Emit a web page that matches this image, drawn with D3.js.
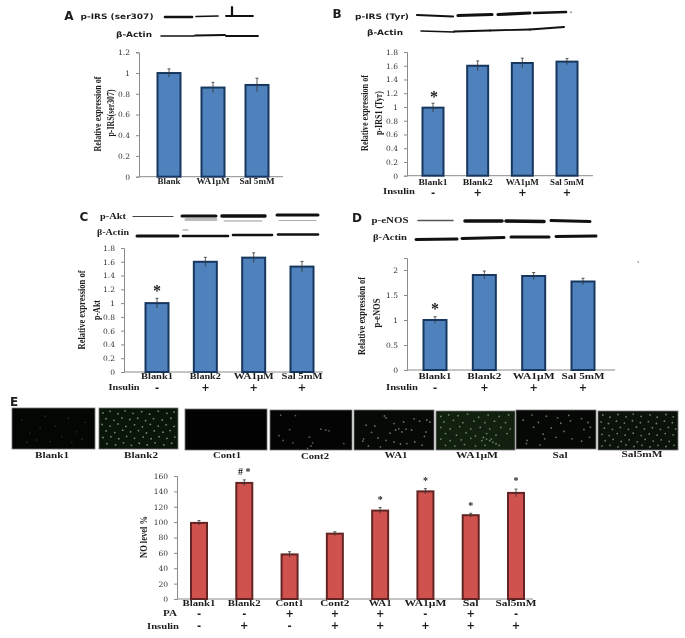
<!DOCTYPE html>
<html>
<head>
<meta charset="utf-8">
<style>
    body { margin: 0; background: #fff; }
    svg { display: block; filter: blur(0.6px); }
    text { font-family: "Liberation Serif", serif; font-weight: bold; fill: #1c1c1c; }
    .sans { font-family: "DejaVu Sans", sans-serif; }
    .tick text { font-family: "DejaVu Serif", serif; font-weight: normal; font-size: 7.5px; fill: #333; }
</style>
</head>
<body>
<div id="chart"></div>
<script src="https://cdn.jsdelivr.net/npm/d3@7"></script>
<script>
const irsSerCategories = ['Blank', 'WA1\u00b5M', 'Sal 5mM']
const irsSerValues = [1, 0.86, 0.885]
const irsSerErrors = [0.04, 0.05, 0.065]

const fourCategories = ['Blank1', 'Blank2', 'WA1\u00b5M', 'Sal 5mM']
const fourInsulin = ['-', '+', '+', '+']

const irsTyrValues = [0.99, 1.6, 1.64, 1.66]
const irsTyrErrors = [0.065, 0.07, 0.07, 0.045]

const aktValues = [1, 1.6, 1.66, 1.53]
const aktErrors = [0.07, 0.065, 0.07, 0.075]

const enosValues = [1, 1.9, 1.88, 1.77]
const enosErrors = [0.065, 0.08, 0.07, 0.065]

const noCategories = ['Blank1', 'Blank2', 'Cont1', 'Cont2', 'WA1', 'WA1\u00b5M', 'Sal', 'Sal5mM']
const noValues = [99, 151, 58, 85, 115, 140, 109, 138]
const noErrors = [3, 4, 3.5, 2.5, 4, 3.5, 2.5, 5]
const noPA = ['-', '-', '+', '+', '+', '-', '+', '-']
const noInsulin = ['-', '+', '-', '+', '+', '+', '+', '+']
const noMarks = ['', '# *', '', '', '*', '*', '*', '*']

// bright cells per micrograph, in percent of the frame
const spotsBlank1 = [[12,30],[22,62],[30,78],[40,20],[52,44],[60,70],[68,25],[78,58],[88,35],[18,84],[46,82],[72,84],[34,48],[84,76]]
const spotsBlank2 = [[5,12],[14,8],[24,14],[33,7],[43,13],[54,9],[64,15],[75,8],[86,13],[95,10],
    [9,26],[19,30],[29,24],[39,28],[49,25],[59,31],[69,26],[80,29],[91,25],
    [4,40],[14,44],[24,39],[34,45],[45,41],[55,46],[65,40],[75,44],[85,41],[95,45],
    [9,56],[20,60],[30,54],[40,58],[50,55],[60,61],[70,56],[81,59],[90,55],
    [5,72],[15,70],[25,75],[35,69],[45,74],[56,71],[66,75],[76,70],[86,74],[96,71],
    [10,87],[21,90],[31,85],[41,91],[51,86],[61,90],[71,85],[82,90],[92,86]]
const spotsCont1 = []
const spotsCont2 = [[13,13],[31,14],[24,49],[11,64],[16,76],[28,82],[48,68],[52,82],[50,90],[46,96],[62,48],[68,50],[72,52],[90,84]]
const spotsWA1 = [[38,15],[40,20],[15,38],[26,40],[52,50],[56,47],[60,55],[65,48],[45,58],[30,70],[12,72],[11,78],[50,80],[58,85],[66,84],[76,80],[85,88],[91,25],[95,30],[82,28],[75,22],[72,50],[90,55],[88,66],[40,76],[22,56],[18,90],[33,92],[62,30],[50,34]]
const spotsWA1uM = [[6,14],[16,10],[28,12],[40,8],[54,16],[66,10],[80,14],[92,10],[10,28],[22,24],[34,30],[48,26],[62,30],[74,26],[88,30],
    [6,42],[18,46],[30,40],[44,46],[56,42],[68,46],[82,42],[94,46],[12,58],[26,62],[38,56],[50,64],[64,58],[76,62],[90,58],
    [6,72],[18,76],[32,74],[44,70],[58,76],[70,72],[12,88],[24,90],[36,86],[50,90],[62,88],[60,68],[64,72],[68,76],[72,80],[76,84],[80,88]]
const spotsSal = [[9,26],[20,13],[22,44],[28,32],[38,16],[52,20],[66,14],[82,22],[90,32],[93,44],[85,50],[68,28],[56,34],[34,62],[36,74],[14,78],[13,86],[30,90],[50,70],[82,80],[70,74],[44,46],[60,55],[92,70]]
const spotsSal5mM = [[6,10],[15,16],[25,9],[35,15],[44,8],[54,14],[65,10],[74,16],[85,9],[94,15],
    [4,28],[13,32],[23,26],[33,31],[43,25],[53,30],[63,27],[73,32],[83,26],[93,30],
    [8,44],[18,47],[28,42],[38,47],[48,41],[58,46],[68,43],[78,47],[88,42],[97,46],
    [5,60],[14,63],[24,58],[34,62],[44,57],[54,63],[64,59],[74,62],[84,58],[94,61],
    [9,76],[19,73],[29,78],[39,74],[49,79],[59,73],[69,77],[79,74],[89,78],
    [5,90],[15,88],[25,92],[35,87],[45,91],[55,88],[65,92],[75,88],[85,91],[95,88]]

const width = 685
const height = 638

const svg = d3.select('#chart').append('svg')
    .attr('width', width)
    .attr('height', height)

function addText(x, y, str, opts = {}) {
    const t = svg.append('text')
        .attr('x', x)
        .attr('y', y)
        .attr('text-anchor', opts.anchor || 'middle')
        .attr('dominant-baseline', 'middle')
        .attr('font-size', opts.size || 9)
        .text(str)
    if (opts.sans) t.attr('class', 'sans')
    if (opts.length) t.attr('textLength', opts.length).attr('lengthAdjust', 'spacingAndGlyphs')
    if (opts.rotate) t.attr('transform', `rotate(-90 ${x} ${y})`)
    return t
}

function drawBars({ categories, values, errors, maxY, ticks, left, right, first, last, bottom, top, barWidth, fill, stroke, labelY, labelLengths }) {
    const x = d3.scalePoint().domain(categories).range([first, last])
    const y = d3.scaleLinear().domain([0, maxY]).range([bottom, top])

    const g = svg.append('g')
    g.append('line')
        .attr('x1', left).attr('x2', right)
        .attr('y1', bottom).attr('y2', bottom)
        .attr('stroke', '#8a8a8a')

    const yAxis = g.append('g')
        .attr('transform', `translate(${left},0)`)
        .call(d3.axisLeft(y).tickValues(ticks).tickSize(3).tickPadding(6).tickFormat(d3.format('~g')))
    yAxis.select('.domain').attr('stroke', '#8a8a8a')
    yAxis.selectAll('.tick line').attr('stroke', '#8a8a8a')

    g.selectAll('.bar').data(values).join('rect')
        .attr('class', 'bar')
        .attr('x', (d, i) => x(categories[i]) - barWidth / 2)
        .attr('width', barWidth)
        .attr('y', d => y(d))
        .attr('height', d => bottom - y(d))
        .attr('fill', fill)
        .attr('stroke', stroke)
        .attr('stroke-width', 2)

    const err = g.selectAll('.err').data(values).join('g').attr('class', 'err')
        .attr('stroke', '#333')
        .attr('stroke-width', 0.8)
    err.append('line')
        .attr('x1', (d, i) => x(categories[i])).attr('x2', (d, i) => x(categories[i]))
        .attr('y1', (d, i) => y(d - errors[i])).attr('y2', (d, i) => y(d + errors[i]))
    err.append('line')
        .attr('x1', (d, i) => x(categories[i]) - 1.5).attr('x2', (d, i) => x(categories[i]) + 1.5)
        .attr('y1', (d, i) => y(d + errors[i])).attr('y2', (d, i) => y(d + errors[i]))

    categories.forEach((c, i) => addText(x(c), labelY, c, { size: 8, length: labelLengths[i] }))
    return x
}

function drawSigns(x, categories, signs, yPos) {
    categories.forEach((c, i) => addText(x(c), yPos, signs[i], { size: 10, sans: true }))
}

function drawBands(bands) {
    bands.forEach(b => {
        svg.append('line')
            .attr('x1', b[0]).attr('x2', b[1])
            .attr('y1', b[2]).attr('y2', b[3])
            .attr('stroke', b[5] || '#111')
            .attr('stroke-width', b[4])
            .attr('stroke-linecap', 'round')
    })
}

function drawMicrograph(x0, x1, y0, y1, spots, bg, spotColor, label, labelX, labelY, labelLength) {
    svg.append('rect')
        .attr('x', x0).attr('y', y0)
        .attr('width', x1 - x0).attr('height', y1 - y0)
        .attr('fill', bg)
        .attr('stroke', '#777')
        .attr('stroke-width', 0.8)
    const sx = d3.scaleLinear().domain([0, 100]).range([x0, x1])
    const sy = d3.scaleLinear().domain([0, 100]).range([y0, y1])
    svg.append('g').selectAll('circle').data(spots).join('circle')
        .attr('cx', d => sx(d[0]))
        .attr('cy', d => sy(d[1]))
        .attr('r', 0.9)
        .attr('fill', spotColor)
        .attr('opacity', 0.6)
    addText(labelX, labelY, label, { size: 8, length: labelLength })
}

// panel A
addText(69, 16, 'A', { size: 12, sans: true })
addText(117, 17, 'p-IRS (ser307)', { size: 7.5, sans: true, length: 73 })
addText(134, 35, '\u03b2-Actin', { size: 7.5, sans: true, length: 36 })
drawBands([
    [165, 192, 17, 17, 2.6], [196, 218, 16.5, 16, 1.7], [226, 253, 16, 16, 1.8], [232, 232, 7, 15, 2.2],
    [161, 194, 36, 36, 1.5], [195, 225, 35.5, 35, 1.9], [226, 258, 36, 36, 1.9]
])
drawBars({
    categories: irsSerCategories, values: irsSerValues, errors: irsSerErrors,
    maxY: 1.2, ticks: [0, 0.2, 0.4, 0.6, 0.8, 1, 1.2],
    left: 139, right: 283, first: 169, last: 257, bottom: 176.7, top: 52.3, barWidth: 23,
    fill: '#4f81bd', stroke: '#17375e', labelY: 182.5, labelLengths: [23, 33, 35]
})
addText(99, 114, 'Relative expression of', { size: 10, rotate: true, length: 75 })
addText(112, 113, 'p-IRS(ser307)', { size: 10, rotate: true, length: 47 })

// panel B
addText(337, 14, 'B', { size: 12, sans: true })
addText(382, 17, 'p-IRS (Tyr)', { size: 7.5, sans: true, length: 54 })
addText(385, 33, '\u03b2-Actin', { size: 7.5, sans: true, length: 36 })
drawBands([
    [417, 453, 15, 16.5, 2.2], [458, 492, 15.5, 14.5, 3.2], [498, 530, 14.5, 13, 3.2], [534, 566, 13, 12, 2.6], [571, 571, 12, 12.5, 1],
    [421, 454, 31, 32, 1.6], [454, 490, 31.5, 30.5, 2.2], [490, 530, 30.5, 29.5, 1.8], [530, 564, 29.5, 27, 2]
])
const xB = drawBars({
    categories: fourCategories, values: irsTyrValues, errors: irsTyrErrors,
    maxY: 1.8, ticks: [0, 0.2, 0.4, 0.6, 0.8, 1, 1.2, 1.4, 1.6, 1.8],
    left: 407, right: 593, first: 433, last: 567, bottom: 175.7, top: 52, barWidth: 21,
    fill: '#4f81bd', stroke: '#17375e', labelY: 183, labelLengths: [29, 30, 33, 34]
})
addText(366, 113, 'Relative expression of', { size: 10, rotate: true, length: 76 })
addText(380, 113, 'p-IRS1 (Tyr)', { size: 10, rotate: true, length: 44 })
addText(399, 192.5, 'Insulin', { size: 8, length: 32 })
drawSigns(xB, fourCategories, fourInsulin, 192.5)
addText(434, 98, '*', { size: 16 })

// panel C
addText(84, 217, 'C', { size: 12, sans: true })
addText(113, 217, 'p-Akt', { size: 9, length: 26 })
addText(113, 233, '\u03b2-Actin', { size: 9, length: 32 })
drawBands([
    [186, 216, 219.5, 219.5, 3, '#bbb'], [224, 262, 221, 221, 1, '#999'], [279, 316, 220.5, 220.5, 1, '#aaa'],
    [133, 173, 216.5, 216.5, 1.2, '#444'], [182, 216, 216, 216, 3], [222, 265, 216, 216, 3.6], [277, 318, 215, 215, 3],
    [137, 178, 236, 236, 3], [183, 228, 236, 236, 2.6], [233, 272, 235, 235, 2.6], [278, 318, 234.5, 234.5, 2.6], [183, 188, 230, 230, 0.6, '#444']
])
const xC = drawBars({
    categories: fourCategories, values: aktValues, errors: aktErrors,
    maxY: 1.8, ticks: [0, 0.2, 0.4, 0.6, 0.8, 1, 1.2, 1.4, 1.6, 1.8],
    left: 124, right: 323, first: 157, last: 302, bottom: 372, top: 248, barWidth: 23,
    fill: '#4f81bd', stroke: '#17375e', labelY: 377.5, labelLengths: [32, 31, 40, 41]
})
addText(83, 310, 'Relative expression of', { size: 10.5, rotate: true, length: 79 })
addText(98, 310, 'p-Akt', { size: 10, rotate: true, length: 20 })
addText(124, 388, 'Insulin', { size: 8, length: 31 })
drawSigns(xC, fourCategories, fourInsulin, 388)
addText(157, 292, '*', { size: 16 })

// panel D
addText(357, 218, 'D', { size: 12, sans: true })
addText(390, 221, 'p-eNOS', { size: 9, length: 37 })
addText(390, 238, '\u03b2-Actin', { size: 9, length: 34 })
drawBands([
    [418, 453, 220.5, 220.5, 1.5, '#555'], [465, 502, 221, 221, 3.6], [506, 544, 221, 221.5, 3.6], [551, 590, 220.5, 221.5, 3],
    [416, 457, 239.5, 239, 3], [462, 504, 238.5, 237.5, 3], [511, 549, 237, 237, 3], [556, 596, 236.5, 236, 3],
    [638, 638.6, 262, 262, 1, '#555']
])
const xD = drawBars({
    categories: fourCategories, values: enosValues, errors: enosErrors,
    maxY: 2.24, ticks: [0, 0.5, 1, 1.5, 2],
    left: 407, right: 615, first: 435, last: 583, bottom: 370, top: 258, barWidth: 23,
    fill: '#4f81bd', stroke: '#17375e', labelY: 377, labelLengths: [33, 34, 42, 43]
})
addText(363, 316, 'Relative expression of', { size: 10.5, rotate: true, length: 78 })
addText(378, 313, 'p-eNOS', { size: 10, rotate: true, length: 29 })
addText(402, 388, 'Insulin', { size: 8, length: 32 })
drawSigns(xD, fourCategories, fourInsulin, 388)
addText(435, 310, '*', { size: 16 })

// panel E
addText(14, 402, 'E', { size: 12, sans: true })
drawMicrograph(12, 95, 408, 449, spotsBlank1, '#030603', '#2c4a2c', 'Blank1', 52, 456, 34)
drawMicrograph(99, 178, 408, 449, spotsBlank2, '#0a150a', '#b9dcae', 'Blank2', 141, 456, 34)
drawMicrograph(185, 267, 409, 450, spotsCont1, '#020202', '#fff', 'Cont1', 227, 456, 28)
drawMicrograph(270, 352, 410, 450, spotsCont2, '#040404', '#9a9a80', 'Cont2', 315, 457, 28)
drawMicrograph(354, 434, 410, 450, spotsWA1, '#060906', '#a9b69a', 'WA1', 396, 456, 23)
drawMicrograph(436, 515, 411, 450, spotsWA1uM, '#12200f', '#a7c79a', 'WA1\u00b5M', 477, 456, 42)
drawMicrograph(516, 596, 410, 449, spotsSal, '#050805', '#a9b69a', 'Sal', 560, 456, 15)
drawMicrograph(598, 678, 411, 450, spotsSal5mM, '#0a120a', '#b4c8a8', 'Sal5mM', 642, 455, 41)

const xE = drawBars({
    categories: noCategories, values: noValues, errors: noErrors,
    maxY: 160, ticks: [0, 20, 40, 60, 80, 100, 120, 140, 160],
    left: 177, right: 533, first: 199, last: 516, bottom: 599, top: 476, barWidth: 16,
    fill: '#d0524e', stroke: '#632523', labelY: 604.5, labelLengths: [33, 33, 28, 29, 23, 42, 16, 41]
})
addText(145, 537, 'NO level %', { size: 10.5, rotate: true, length: 42 })
addText(170, 614, 'PA', { size: 8, length: 14 })
addText(163, 627, 'Insulin', { size: 8, length: 32 })
drawSigns(xE, noCategories, noPA, 614)
drawSigns(xE, noCategories, noInsulin, 626)
noCategories.forEach((c, i) => {
    if (noMarks[i]) {
        addText(xE(c), d3.scaleLinear().domain([0, 160]).range([599, 476])(noValues[i] + noErrors[i]) - 7, noMarks[i], { size: 10 })
    }
})
</script>
</body>
</html>
